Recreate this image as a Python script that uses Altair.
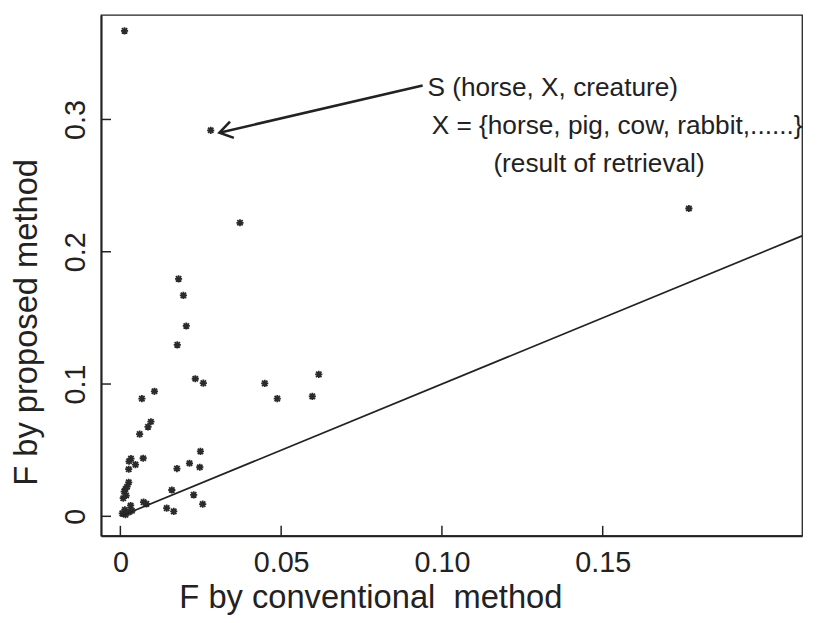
import altair as alt
import pandas as pd

# ---- data ----
conv = [0.0013, 0.0281, 0.0372, 0.1768, 0.0181, 0.0196, 0.0205, 0.0177, 0.0233, 0.0258,
        0.0449, 0.0488, 0.0106, 0.0067, 0.0617, 0.0597, 0.0095, 0.0086, 0.0060, 0.0249,
        0.0215, 0.0176, 0.0247, 0.0071, 0.0033, 0.0026, 0.0047, 0.0026, 0.0016, 0.0012,
        0.0018, 0.0009, 0.0160, 0.0228, 0.0256, 0.0144, 0.0166, 0.0072, 0.0081, 0.0032,
        0.0014, 0.0026, 0.0006, 0.0036, 0.0016, 0.0027, 0.0021]
prop = [0.3670, 0.2918, 0.2219, 0.2327, 0.1795, 0.1670, 0.1439, 0.1296, 0.1040, 0.1007,
        0.1005, 0.0890, 0.0945, 0.0890, 0.1073, 0.0907, 0.0715, 0.0676, 0.0621, 0.0491,
        0.0401, 0.0361, 0.0371, 0.0439, 0.0436, 0.0356, 0.0391, 0.0257, 0.0207, 0.0187,
        0.0157, 0.0137, 0.0199, 0.0162, 0.0092, 0.0062, 0.0037, 0.0107, 0.0094, 0.0082,
        0.0050, 0.0032, 0.0022, 0.0042, 0.0012, 0.0416, 0.0224]

x_ticks = [0, 0.05, 0.10, 0.15]
x_tick_labels = ["0", "0.05", "0.10", "0.15"]
y_ticks = [0, 0.1, 0.2, 0.3]
y_tick_labels = ["0", "0.1", "0.2", "0.3"]

ref_x = [0.0, 0.212]          # y = x reference line
ann_text = ["S (horse, X, creature)",
            "X = {horse, pig, cow, rabbit,......}",
            "(result of retrieval)"]
ann_x = [0.0955, 0.0968, 0.1160]
ann_y = [0.3240, 0.2950, 0.2665]
arrow_x = [0.0940, 0.0308]
arrow_y = [0.3256, 0.2900]

# ---- layout ----
W, H = 708, 526
FONT = "Liberation Sans"
INK = "#222222"

xs = alt.Scale(domain=[-0.006, 0.212], nice=False, zero=False)
ys = alt.Scale(domain=[-0.0147, 0.379], nice=False, zero=False)

def label_expr(vals, labels):
    parts = " : ".join(
        f"abs(datum.value - {v}) < 1e-9 ? '{l}'" for v, l in zip(vals, labels)
    )
    return parts + " : ''"

ASTERISK = "M-1,0L1,0M0,-1L0,1M-0.75,-0.75L0.75,0.75M-0.75,0.75L0.75,-0.75"
ARROWHEAD = "M1,-0.65L0,0L1,0.65"

pts = pd.DataFrame({"conv": conv, "prop": prop})
points = alt.Chart(pts).mark_point(
    shape=ASTERISK, filled=False, size=52, strokeWidth=1.8, color="#2a2a2a", opacity=1
).encode(
    x=alt.X("conv:Q", scale=xs, axis=alt.Axis(
        values=x_ticks, labelExpr=label_expr(x_ticks, x_tick_labels),
        ticks=False, grid=False, domain=True, domainColor=INK, domainWidth=2,
        labelFont=FONT, labelFontSize=29, labelColor=INK, labelPadding=13,
        labelFlush=False, labelOverlap=False,
        title="F by conventional\u00a0 method", titleFont=FONT, titleFontSize=33,
        titleFontWeight="normal", titleColor=INK, titleX=272, titleY=62,
        titleAlign="center", titleBaseline="middle")),
    y=alt.Y("prop:Q", scale=ys, axis=alt.Axis(
        values=y_ticks, labelExpr=label_expr(y_ticks, y_tick_labels),
        ticks=False, grid=False, domain=True, domainColor=INK, domainWidth=2,
        labelFont=FONT, labelFontSize=29, labelColor=INK, labelPadding=26,
        labelAngle=270, labelAlign="center", labelBaseline="middle",
        labelFlush=False, labelOverlap=False,
        title="F by proposed method", titleFont=FONT, titleFontSize=33,
        titleFontWeight="normal", titleColor=INK, titleAngle=270,
        titleX=-75, titleY=310, titleAlign="center", titleBaseline="middle")),
)

ref = alt.Chart(pd.DataFrame({"conv": ref_x, "prop": ref_x})).mark_line(
    color=INK, strokeWidth=1.7, clip=True
).encode(x=alt.X("conv:Q", scale=xs), y=alt.Y("prop:Q", scale=ys))

xt = alt.Chart(pd.DataFrame({"conv": x_ticks})).mark_rule(color=INK, strokeWidth=1.5).encode(
    x=alt.X("conv:Q", scale=xs), y=alt.value(H), y2=alt.value(H - 10))
yt = alt.Chart(pd.DataFrame({"prop": y_ticks})).mark_rule(color=INK, strokeWidth=1.5).encode(
    y=alt.Y("prop:Q", scale=ys), x=alt.value(0), x2=alt.value(10))

arrow_df = pd.DataFrame({"conv": arrow_x, "prop": arrow_y, "o": [0, 1]})
arrow = alt.Chart(arrow_df).mark_line(color=INK, strokeWidth=2.6).encode(
    x=alt.X("conv:Q", scale=xs), y=alt.Y("prop:Q", scale=ys), order="o:Q")
head = alt.Chart(arrow_df.iloc[[1]]).mark_point(
    shape=ARROWHEAD, filled=False, size=676, strokeWidth=2.6, color=INK, angle=346.7, opacity=1
).encode(x=alt.X("conv:Q", scale=xs), y=alt.Y("prop:Q", scale=ys))

ann = alt.Chart(pd.DataFrame({"conv": ann_x, "prop": ann_y, "s": ann_text})).mark_text(
    align="left", baseline="middle", font=FONT, fontSize=26.5, color=INK
).encode(x=alt.X("conv:Q", scale=xs), y=alt.Y("prop:Q", scale=ys), text="s:N")

chart = alt.layer(points, ref, xt, yt, arrow, head, ann).properties(
    width=W, height=H,
    background="white",
    autosize=alt.AutoSizeParams(type="none"),
    padding={"left": 94, "top": 4, "right": 8, "bottom": 77},
).configure_view(stroke=INK, strokeWidth=1.3)

chart.save("out.html", embed_options={"renderer": "svg", "actions": False})
